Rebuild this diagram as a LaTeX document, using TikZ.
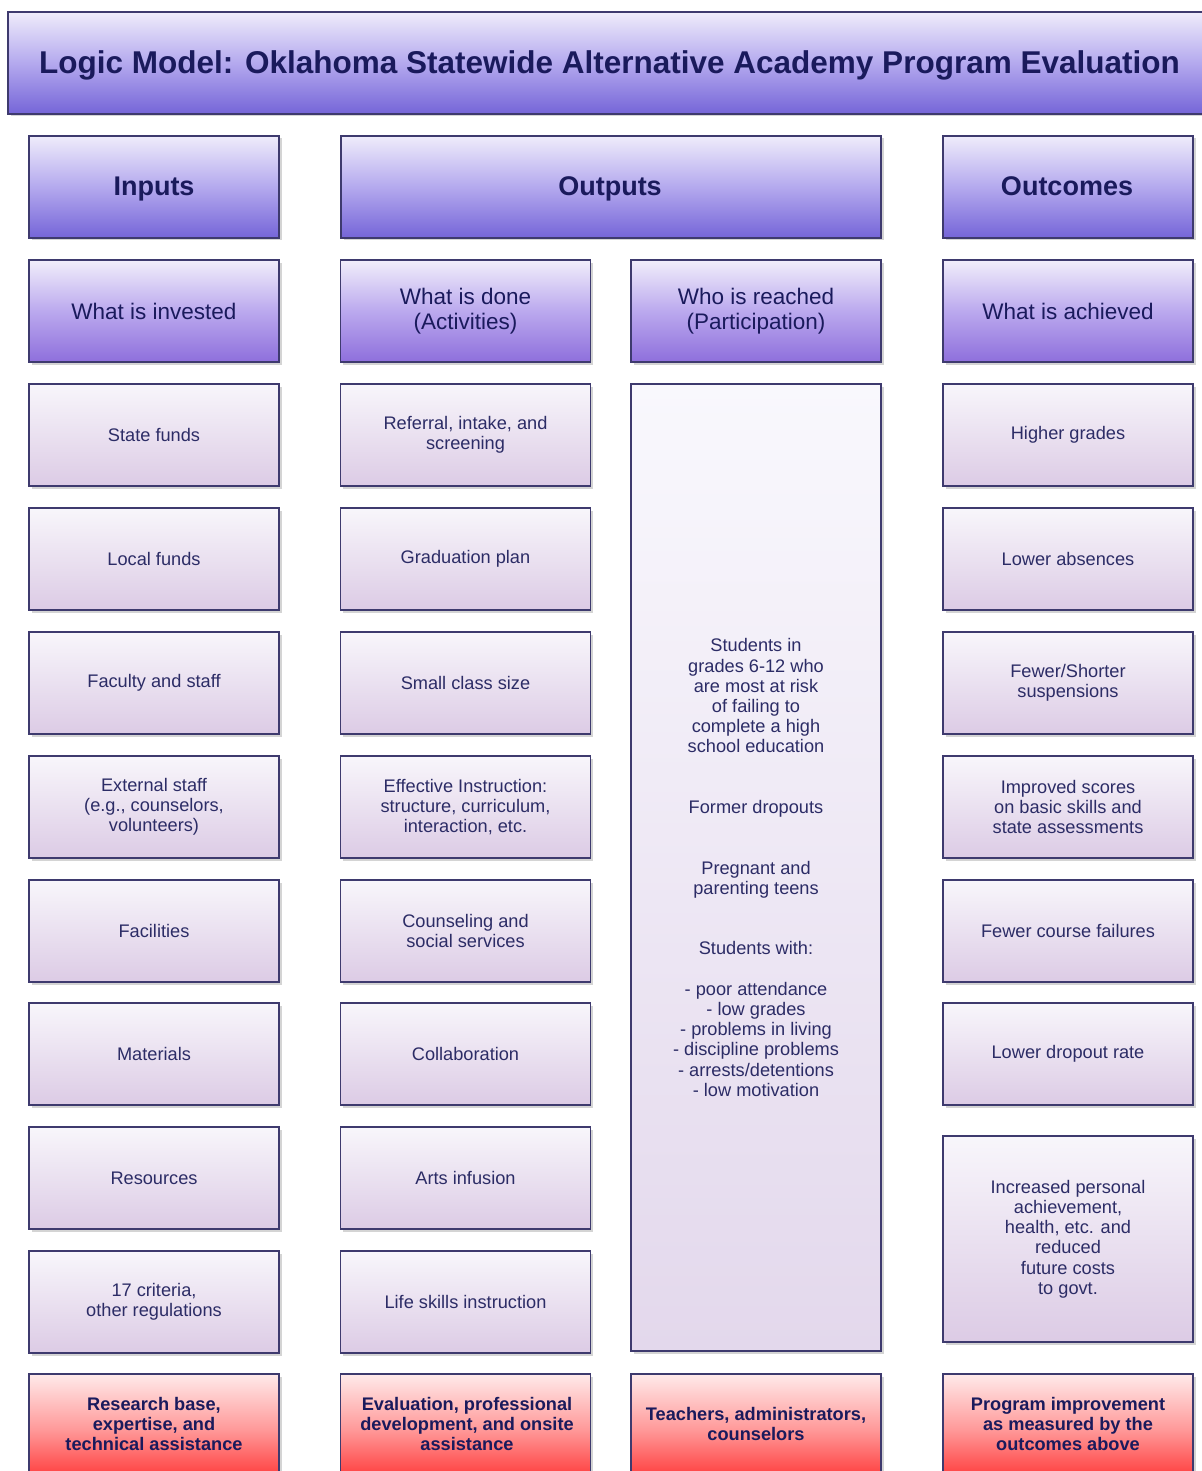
\documentclass[tikz,border=0pt]{standalone}
\usepackage{fontspec}
\setmainfont{Liberation Sans}
\usetikzlibrary{shadows}
\definecolor{bordc}{HTML}{3E3A6E}
\definecolor{titc}{HTML}{1A1A5C}
\definecolor{txtc}{HTML}{2C2C66}
\definecolor{hdtop}{HTML}{EFECFB}
\definecolor{hdmid}{HTML}{B4A9EE}
\definecolor{hdbot}{HTML}{7565D8}
\definecolor{sbtop}{HTML}{F1EEFB}
\definecolor{sbmid}{HTML}{BBA9EE}
\definecolor{sbbot}{HTML}{8E6FDC}
\definecolor{ittop}{HTML}{F8F6FB}
\definecolor{itbot}{HTML}{DCCBE5}
\definecolor{tltop}{HTML}{F9F8FD}
\definecolor{tlbot}{HTML}{E3D8EC}
\definecolor{rdtop}{HTML}{FFEAEA}
\definecolor{rdmid}{HTML}{FF9A9A}
\definecolor{rdbot}{HTML}{FF3030}
\tikzset{
  basebox/.style={draw=bordc, line width=1.6pt, rectangle, align=center, inner sep=2pt,
    drop shadow={shadow xshift=2.5pt, shadow yshift=-2.5pt, opacity=0.28, fill=black!60}},
  hdbox/.style={basebox, top color=hdtop, bottom color=hdbot, middle color=hdmid, text=titc},
  hdtext/.style={text=titc, font=\bfseries\fontsize{27}{30}\selectfont, anchor=base},
  subbox/.style={basebox, top color=sbtop, bottom color=sbbot, middle color=sbmid, text=titc,
    minimum width=250pt, minimum height=102pt,
    font=\fontsize{22.5}{25}\selectfont},
  itembox/.style={basebox, top color=ittop, bottom color=itbot, text=txtc,
    minimum width=250pt, minimum height=102pt,
    font=\fontsize{18.2}{20.2}\selectfont},
  redbox/.style={basebox, top color=rdtop, bottom color=rdbot, middle color=rdmid, text=titc,
    minimum width=250pt, minimum height=110pt},
  redtext/.style={text=titc, font=\bfseries\fontsize{18.2}{20.2}\selectfont, align=center},
}
\begin{document}
\begin{tikzpicture}[x=1pt,y=-1pt]
\useasboundingbox (0,0) rectangle (1201,1471);
\fill[white] (0,0) rectangle (1201,1471);
% title
\node[hdbox, minimum width=1196pt, minimum height=102pt] (title) at (606,63) {};
\node[text=titc, font=\bfseries\fontsize{31.5}{34}\selectfont, anchor=base] (titletext) at (609.5,73.5) {Logic Model: Oklahoma Statewide Alternative Academy Program Evaluation};
% headers
\node[hdbox, minimum width=250pt, minimum height=102pt] (inputs) at (154,187) {};
\node[hdtext] (inputst) at (154,195.5) {Inputs};
\node[hdbox, minimum width=540pt, minimum height=102pt] (outputs) at (611,187) {};
\node[hdtext] (outputst) at (610,195.5) {Outputs};
\node[hdbox, minimum width=250pt, minimum height=102pt] (outcomes) at (1068,187) {};
\node[hdtext] (outcomest) at (1067,195.5) {Outcomes};
% sub headers
\node[subbox] (invested) at (154,311) {What is invested};
\node[subbox] (done) at (465.5,311) {What is done\\(Activities)};
\node[subbox] (reached) at (756,311) {Who is reached\\(Participation)};
\node[subbox] (achieved) at (1068,311) {What is achieved};
% inputs column
\node[itembox] (in1) at (154,435) {State funds};
\node[itembox] (in2) at (154,559) {Local funds};
\node[itembox] (in3) at (154,683) {Faculty and staff};
\node[itembox] (in4) at (154,807) {External staff\\(e.g., counselors,\\volunteers)};
\node[itembox] (in5) at (154,931) {Facilities};
\node[itembox] (in6) at (154,1054) {Materials};
\node[itembox] (in7) at (154,1178) {Resources};
\node[itembox] (in8) at (154,1302) {17 criteria,\\other regulations};
% activities column
\node[itembox] (ac1) at (465.5,435) {Referral, intake, and\\screening};
\node[itembox] (ac2) at (465.5,559) {Graduation plan};
\node[itembox] (ac3) at (465.5,683) {Small class size};
\node[itembox] (ac4) at (465.5,807) {Effective Instruction:\\structure, curriculum,\\interaction, etc.};
\node[itembox] (ac5) at (465.5,931) {Counseling and\\social services};
\node[itembox] (ac6) at (465.5,1054) {Collaboration};
\node[itembox] (ac7) at (465.5,1178) {Arts infusion};
\node[itembox] (ac8) at (465.5,1302) {Life skills instruction};
% participation tall box
\node[itembox, top color=tltop, bottom color=tlbot, minimum height=967pt] (part) at (756,867.5) {Students in\\grades 6-12 who\\are most at risk\\of failing to\\complete a high\\school education\\[40.4pt]Former dropouts\\[40.4pt]Pregnant and\\parenting teens\\[40.4pt]Students with:\\[20.2pt]- poor attendance\\- low grades\\- problems in living\\- discipline problems\\- arrests/detentions\\- low motivation};
% outcomes column
\node[itembox] (oc1) at (1068,435) {Higher grades};
\node[itembox] (oc2) at (1068,559) {Lower absences};
\node[itembox] (oc3) at (1068,683) {Fewer/Shorter\\suspensions};
\node[itembox] (oc4) at (1068,807) {Improved scores\\on basic skills and\\state assessments};
\node[itembox] (oc5) at (1068,931) {Fewer course failures};
\node[itembox] (oc6) at (1068,1054) {Lower dropout rate};
\node[itembox, minimum height=206pt] (oc7) at (1068,1239) {Increased personal\\achievement,\\health, etc. and\\reduced\\future costs\\to govt.};
% red bottom boxes
\node[redbox] (rd1) at (154,1429) {};
\node[redtext] (rd1t) at (154,1424) {Research base,\\expertise, and\\technical assistance};
\node[redbox] (rd2) at (465.5,1429) {};
\node[redtext] (rd2t) at (467,1424) {Evaluation, professional\\development, and onsite\\assistance};
\node[redbox] (rd3) at (756,1429) {};
\node[redtext] (rd3t) at (756,1424) {Teachers, administrators,\\counselors};
\node[redbox] (rd4) at (1068,1429) {};
\node[redtext] (rd4t) at (1068,1424) {Program improvement\\as measured by the\\outcomes above};
\end{tikzpicture}
\end{document}
